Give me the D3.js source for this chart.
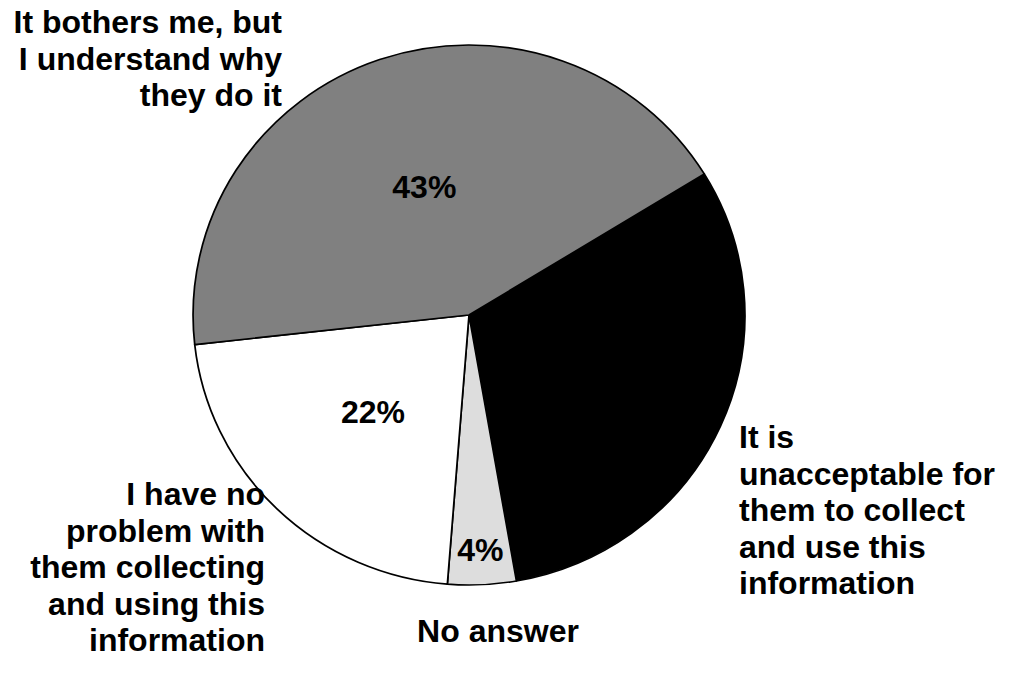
<!DOCTYPE html>
<html>
<head>
<meta charset="utf-8">
<script src="https://cdn.jsdelivr.net/npm/d3@7"></script>
<style>
  body { margin: 0; background: #fff; }
  text { font-family: "Liberation Sans", Arial, sans-serif; font-weight: bold; fill: #000; }
</style>
</head>
<body>
<svg id="pieSVG"></svg>
<script>
// data, in drawing order (clockwise from the top right)
var categories = ["unacceptable", "noAnswer", "noProblem", "bothers"];
var values = [31, 4, 22, 43];
var sliceColors = ["#000000", "#dddddd", "#ffffff", "#808080"];
var labelLines = [
  ["It is", "unacceptable for", "them to collect", "and use this", "information"],
  ["No answer"],
  ["I have no", "problem with", "them collecting", "and using this", "information"],
  ["It bothers me, but", "I understand why", "they do it"]
];

var width = 1019, height = 687;
var cx = 469, cy = 315, r = 270, stretchX = 1.022;
var fontSize = 32, lineH = 36.5;

var svg = d3.select("#pieSVG")
    .attr("width", width)
    .attr("height", height);

var pie = d3.pie()
    .sort(null)
    .value(function(d) { return d; })
    .startAngle(58.5 * Math.PI / 180)
    .endAngle(58.5 * Math.PI / 180 + 2 * Math.PI);

var arcs = pie(values);

var arc = d3.arc().innerRadius(0).outerRadius(r);

var pieG = svg.append("g")
    .attr("transform", "translate(" + cx + "," + cy + ") scale(" + stretchX + ",1)");

pieG.selectAll("path")
    .data(arcs)
    .enter()
    .append("path")
    .attr("d", arc)
    .attr("fill", function(d, i) { return sliceColors[i]; })
    .attr("stroke", "#000")
    .attr("stroke-width", 1.7)
    .attr("stroke-linejoin", "round");

// percent labels: small slices go near the rim
svg.selectAll("text.pct")
    .data(arcs)
    .enter()
    .append("text")
    .attr("class", "pct")
    .attr("text-anchor", "middle")
    .attr("font-size", fontSize + "px")
    .attr("transform", function(d) {
        var k = d.data < 10 ? 0.87 : 0.5;
        var c = d3.arc().innerRadius(r * k).outerRadius(r * k).centroid(d);
        return "translate(" + (cx + c[0] * stretchX) + "," + (cy + c[1] + 11) + ")";
    })
    .text(function(d) { return d.data + "%"; });

// category labels
var labelPos = [
  {x: 739, y: 448, anchor: "start"},
  {x: 498, y: 642, anchor: "middle"},
  {x: 265, y: 505, anchor: "end"},
  {x: 282, y: 33, anchor: "end"}
];

labelLines.forEach(function(lines, i) {
    var t = svg.append("text")
        .attr("x", labelPos[i].x)
        .attr("y", labelPos[i].y)
        .attr("text-anchor", labelPos[i].anchor)
        .attr("font-size", fontSize + "px");
    lines.forEach(function(s, j) {
        t.append("tspan")
            .attr("x", labelPos[i].x)
            .attr("y", labelPos[i].y + j * lineH)
            .text(s);
    });
});
</script>
</body>
</html>
